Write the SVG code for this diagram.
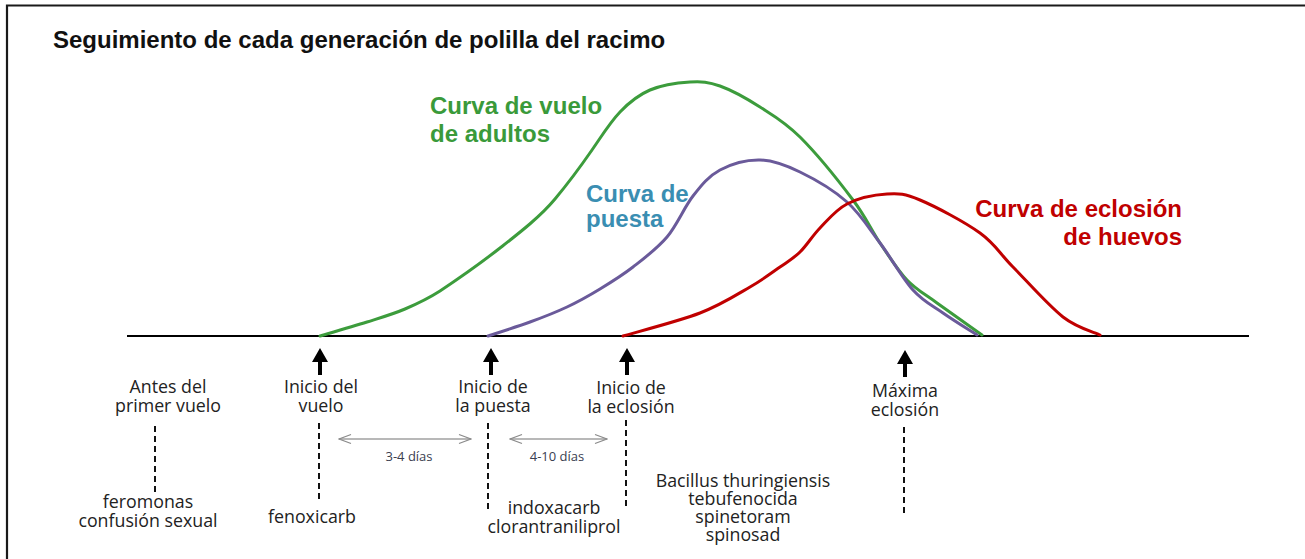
<svg xmlns="http://www.w3.org/2000/svg" width="1305" height="559" viewBox="0 0 1305 559">
<style>
.title{font-family:"Liberation Sans",Arial,sans-serif;font-weight:bold;font-size:24px;fill:#111}
.clabel{font-family:"Liberation Sans",Arial,sans-serif;font-weight:bold;font-size:24px}
.lbl{font-family:"Open Sans","Noto Sans",sans-serif;font-size:17.8px;fill:#222;text-anchor:middle}
.small{font-family:"Open Sans","Noto Sans",sans-serif;font-size:13px;fill:#3a4050;text-anchor:middle}
.curve{fill:none;stroke-width:3;stroke-linejoin:round;stroke-linecap:round}
.dash{stroke:#111;stroke-width:2;stroke-dasharray:6 4;fill:none}
.span{stroke:#a0a0a0;stroke-width:1.5;fill:none;marker-start:url(#chev);marker-end:url(#chev)}
.up{fill:#000}
</style>
<defs>
<marker id="chev" viewBox="-14 -6 15 12" markerWidth="15" markerHeight="12" refX="0" refY="0" orient="auto-start-reverse" markerUnits="userSpaceOnUse">
<path d="M-12,-4.5 L0,0 L-12,4.5" fill="none" stroke="#8a8a8a" stroke-width="1.3"/>
</marker>
<path id="uparrow" d="M0,0 L8,14 L2,14 L2,27 L-2,27 L-2,14 L-8,14 Z"/>
</defs>
<rect width="1305" height="559" fill="#fff"/>
<path d="M7,559 V5.5 H1305" fill="none" stroke="#1a1a1a" stroke-width="2.2"/>
<text class="title" x="53" y="48">Seguimiento de cada generación de polilla del racimo</text>

<g id="connectors">
<line id="baseline" x1="127" y1="336" x2="1249" y2="336" stroke="#000" stroke-width="2"/>
<path id="curva-vuelo" class="curve" stroke="#3c9c3c" d="M320,336 C327.8,333.7 352.8,326.5 367,322 C381.2,317.5 392.8,314.2 405,309 C417.2,303.8 426,300 440,291 C458,279 481.2,262.7 500,248 C518.8,233.3 540,217 555,199 C570,181 580.8,166.2 592,150 C603.2,133.8 610,122.5 620,112 C630,101.5 638.3,95 650,90 C661.7,85 678.3,82.7 690,82 C701.7,81.3 708.3,81.8 720,86 C731.7,90.2 746.7,98.5 760,107 C773.3,115.5 784.5,121.5 800,137 C815.5,152.5 839.7,182.3 853,200 C866.3,217.7 871,229.7 880,243 C889,256.3 897.5,270 907,280 C916.5,290 924.5,293.8 937,303 L982,335"/>
<path id="curva-puesta" class="curve" stroke="#6a5a9a" d="M488,336 C495,333.7 516.8,326.8 530,322 C543.2,317.2 555.3,312.5 567,307 C578.7,301.5 589,295.7 600,289 C611,282.3 621.8,275.7 633,267 C644.2,258.3 657,248.8 667,237 C677,225.2 684.2,207.2 693,196 C701.8,184.8 708.8,176 720,170 C731.2,164 746.7,159.7 760,160 C773.3,160.3 785.5,165 800,172 C814.5,179 833.7,190.2 847,202 C860.3,213.8 869,228.3 880,243 C891,257.7 902.5,278.3 913,290 C923.5,301.7 932.3,305.5 943,313 C953.7,320.5 971.3,331.3 977,335"/>
<path id="curva-eclosion" class="curve" stroke="#c00000" d="M623,336 C635.8,332.2 678.8,321.2 700,313 C721.2,304.8 736.7,294.7 750,287 C763.3,279.3 771.7,272.8 780,267 C788.3,261.2 793.3,258.5 800,252 C806.7,245.5 812.2,236 820,228 C827.8,220 835.8,209.7 847,204 C858.2,198.3 874.8,194.7 887,194 C899.2,193.3 904.5,193.5 920,200 C935.5,206.5 964.5,221.8 980,233 C995.5,244.2 999.2,253 1013,267 C1026.8,281 1048.5,305.7 1063,317 C1077.5,328.3 1093.8,332 1100,335"/>
<use href="#uparrow" x="320" y="348" class="up"/>
<use href="#uparrow" x="491" y="348" class="up"/>
<use href="#uparrow" x="627" y="348" class="up"/>
<use href="#uparrow" x="905" y="350" class="up"/>
<line class="dash" x1="155" y1="426" x2="155" y2="492"/>
<line class="dash" x1="319" y1="423" x2="319" y2="502"/>
<line class="dash" x1="488" y1="423" x2="488" y2="512"/>
<line class="dash" x1="626" y1="420" x2="626" y2="507"/>
<line class="dash" x1="904" y1="427" x2="904" y2="514"/>
<line class="span" x1="339" y1="439" x2="471" y2="439"/>
<line class="span" x1="510" y1="439" x2="607" y2="439"/>
</g>

<g id="label-vuelo"><text class="clabel" fill="#3a9a3a" x="430" y="114">Curva de vuelo<tspan x="430" dy="28">de adultos</tspan></text></g>
<g id="label-puesta"><text class="clabel" fill="#3a8eb2" x="586" y="202">Curva de<tspan x="586" dy="25">puesta</tspan></text></g>
<g id="label-eclosion"><text class="clabel" fill="#c00000" x="1182" y="217" text-anchor="end">Curva de eclosión<tspan x="1182" dy="28">de huevos</tspan></text></g>

<g id="node-antes"><text class="lbl" x="168" y="393">Antes del<tspan x="168" dy="19">primer vuelo</tspan></text></g>
<g id="node-inicio-vuelo"><text class="lbl" x="321" y="393">Inicio del<tspan x="321" dy="19">vuelo</tspan></text></g>
<g id="node-inicio-puesta"><text class="lbl" x="493" y="393">Inicio de<tspan x="493" dy="19">la puesta</tspan></text></g>
<g id="node-inicio-eclosion"><text class="lbl" x="631" y="394">Inicio de<tspan x="631" dy="19">la eclosión</tspan></text></g>
<g id="node-maxima"><text class="lbl" x="905" y="397">Máxima<tspan x="905" dy="18.5">eclosión</tspan></text></g>
<g id="span-3-4"><text class="small" x="409" y="461">3-4 días</text></g>
<g id="span-4-10"><text class="small" x="557" y="461">4-10 días</text></g>
<g id="trat-feromonas"><text class="lbl" x="148" y="508">feromonas<tspan x="148" dy="19">confusión sexual</tspan></text></g>
<g id="trat-fenoxicarb"><text class="lbl" x="312" y="523">fenoxicarb</text></g>
<g id="trat-indoxacarb"><text class="lbl" x="554" y="514">indoxacarb<tspan x="554" dy="19">clorantraniliprol</tspan></text></g>
<g id="trat-bt"><text class="lbl" x="743" y="487">Bacillus thuringiensis<tspan x="743" dy="18">tebufenocida</tspan><tspan x="743" dy="18">spinetoram</tspan><tspan x="743" dy="18">spinosad</tspan></text></g>
</svg>
